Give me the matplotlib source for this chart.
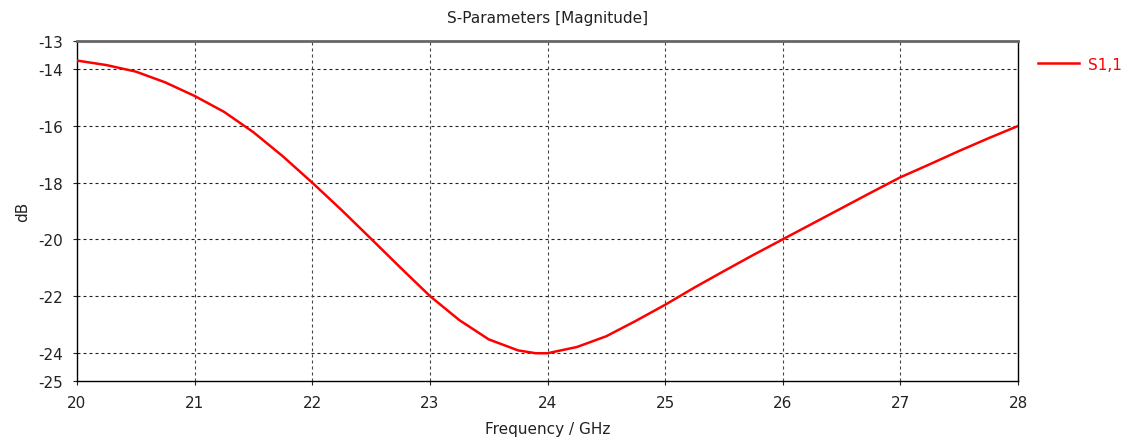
import matplotlib
matplotlib.use("Agg")
import matplotlib.pyplot as plt

# S1,1
freq = [20.0, 20.25, 20.5, 20.75, 21.0, 21.25, 21.5, 21.75, 22.0, 22.25,
        22.5, 22.75, 23.0, 23.25, 23.5, 23.75, 23.9, 24.0, 24.25, 24.5,
        24.75, 25.0, 25.25, 25.5, 25.75, 26.0, 26.25, 26.5, 26.75, 27.0,
        27.25, 27.5, 27.75, 28.0]
s11 = [-13.69, -13.85, -14.08, -14.46, -14.94, -15.50, -16.22, -17.07, -18.00, -18.97,
       -19.98, -21.00, -22.00, -22.85, -23.53, -23.92, -24.02, -24.02, -23.80, -23.42,
       -22.88, -22.31, -21.70, -21.12, -20.55, -20.00, -19.45, -18.90, -18.35, -17.81,
       -17.35, -16.88, -16.43, -16.00]

xticks = [20, 21, 22, 23, 24, 25, 26, 27, 28]
yticks = [-25, -24, -22, -20, -18, -16, -14, -13]
grid_y = [-24, -22, -20, -18, -16, -14]
grid_x = [21, 22, 23, 24, 25, 26, 27]

fig = plt.figure(figsize=(11.23, 4.39), dpi=100)
ax = fig.add_axes([77/1123, 1-382/439, (1018-77)/1123, (382-42)/439])

for g in grid_y:
    ax.axhline(g, color="#222222", lw=0.8, linestyle=(0, (2.7, 2.7)), zorder=1)
for g in grid_x:
    ax.axvline(g, color="#444444", lw=0.8, linestyle=(0, (2.7, 2.7)), zorder=1)

ax.plot(freq, s11, color="red", lw=1.8, label="S1,1", zorder=3, solid_joinstyle="round")

ax.set_xlim(20, 28)
ax.set_ylim(-25, -13)
ax.set_xticks(xticks)
ax.set_yticks(yticks)
ax.set_xticklabels([str(t) for t in xticks])
ax.set_yticklabels([str(t) for t in yticks])
ax.tick_params(direction="out", length=3, width=0.8, labelsize=11, colors="#222222")
ax.tick_params(axis="x", pad=7)
ax.tick_params(axis="y", pad=7)

for s in ["left", "bottom", "right"]:
    ax.spines[s].set_color("black")
    ax.spines[s].set_linewidth(1.0)
ax.spines["top"].set_color("#666666")
ax.spines["top"].set_linewidth(2.0)

ax.set_title("S-Parameters [Magnitude]", fontsize=11, color="#222222", pad=14)
ax.set_xlabel("Frequency / GHz", fontsize=11, color="#222222", labelpad=8)
ax.set_ylabel("dB", fontsize=11, color="#222222", labelpad=6)

fig.legend(loc="upper left", bbox_to_anchor=(1024/1123, 1-44/439), frameon=False,
           fontsize=11, labelcolor="red", handlelength=2.7, handletextpad=0.6)

fig.savefig("out.png", dpi=100)
